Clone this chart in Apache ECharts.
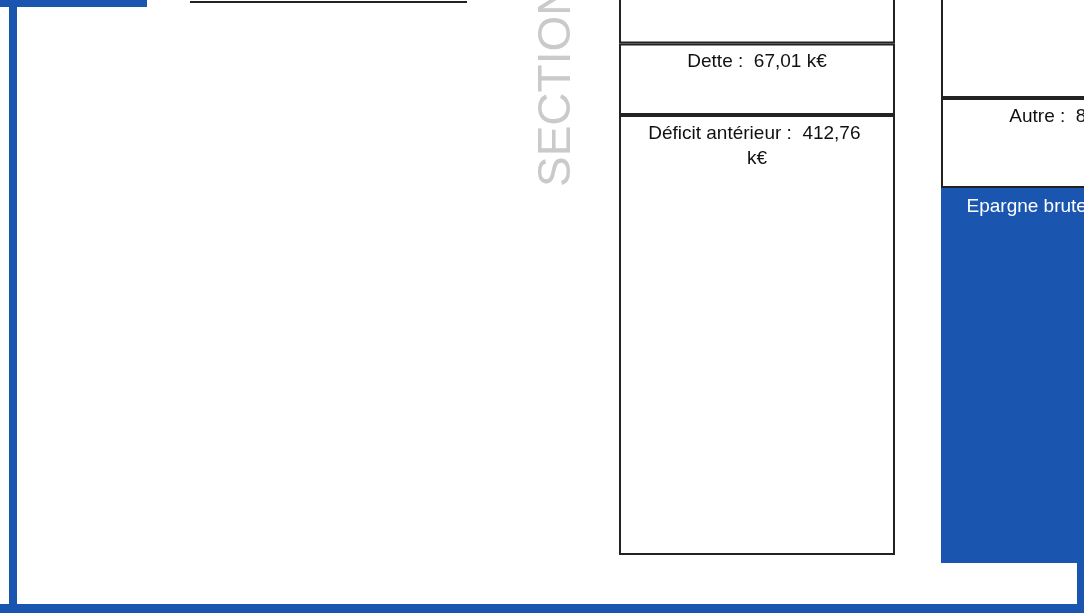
<!DOCTYPE html>
<html>
<head>
<meta charset="utf-8">
<script src="https://cdn.jsdelivr.net/npm/echarts@6/dist/echarts.min.js"></script>
<style>
html, body { margin: 0; padding: 0; background: #fff; }
#main { width: 1084px; height: 613px; }
</style>
</head>
<body>
<div id="main"></div>
<script>
// colonne gauche (dépenses) : du bas vers le haut
var depNoms = ['Déficit antérieur', 'Dette', 'Charges'];
var depVals = [412.76, 67.01, 200];
// colonne droite (recettes) : du bas vers le haut
var recNoms = ['Epargne brute', 'Autre', 'Recettes'];
var recVals = [351.8, 84.4, 200];

var BLEU = '#1a56b0';
var k = 1.066; // px par k€

function fmt(v) {
	return v.toFixed(2).replace('.', ',');
}

var lbl = {
	show: true,
	position: 'insideTop',
	distance: 6,
	fontFamily: 'Liberation Sans, Arial, sans-serif',
	fontSize: 19,
	lineHeight: 25,
	color: '#111',
	width: 236,
	overflow: 'break',
	formatter: function(p) {
		return p.seriesName + ' :  ' + fmt(p.value) + ' k€';
	}
};

var series = [];
depNoms.forEach(function(n, i) {
	series.push({
		name: n,
		type: 'bar',
		stack: 'dep',
		xAxisIndex: 0,
		yAxisIndex: 0,
		barWidth: '100%',
		clip: false,
		data: [depVals[i]],
		itemStyle: { color: '#fff', borderColor: '#222', borderWidth: 2 },
		label: lbl
	});
});
recNoms.forEach(function(n, i) {
	var bleu = n == 'Epargne brute';
	series.push({
		name: n,
		type: 'bar',
		stack: 'rec',
		xAxisIndex: 1,
		yAxisIndex: 1,
		barWidth: '100%',
		clip: false,
		data: [recVals[i]],
		itemStyle: bleu ? { color: BLEU, borderColor: BLEU, borderWidth: 7 } : { color: '#fff', borderColor: '#222', borderWidth: 2 },
		label: Object.assign({}, lbl, { width: 260 }, bleu ? { color: '#fff' } : {})
	});
});

var chart = echarts.init(document.getElementById('main'));
chart.setOption({
	backgroundColor: '#fff',
	animation: false,
	grid: [
		{ left: 619, top: 0, width: 276, height: 555, outerBoundsMode: 'none' },
		{ left: 941, top: 0, width: 276, height: 563, outerBoundsMode: 'none' }
	],
	xAxis: [
		{ type: 'category', data: ['Dépenses'], show: false, gridIndex: 0 },
		{ type: 'category', data: ['Recettes'], show: false, gridIndex: 1 }
	],
	yAxis: [
		{ type: 'value', min: 0, max: 555 / k, show: false, gridIndex: 0 },
		{ type: 'value', min: 0, max: 563 / k, show: false, gridIndex: 1 }
	],
	graphic: [
		// cadre bleu
		{ type: 'rect', shape: { x: 0, y: 0, width: 147, height: 7 }, style: { fill: BLEU } },
		{ type: 'rect', shape: { x: 9, y: 0, width: 8, height: 613 }, style: { fill: BLEU } },
		{ type: 'rect', shape: { x: 0, y: 604, width: 1084, height: 9 }, style: { fill: BLEU } },
		{ type: 'rect', shape: { x: 1077, y: 560, width: 7, height: 53 }, style: { fill: BLEU } },
		// trait noir en haut
		{ type: 'line', shape: { x1: 190, y1: 2, x2: 467, y2: 2 }, style: { stroke: '#222', lineWidth: 2 } },
		// titre vertical
		{
			type: 'text',
			x: 557, y: 187,
			rotation: Math.PI / 2,
			style: {
				text: 'SECTION',
				fontFamily: 'Liberation Sans, Arial, sans-serif',
				fontSize: 46,
				fill: '#cacaca',
				align: 'left',
				verticalAlign: 'middle'
			}
		}
	],
	series: series
});
</script>
</body>
</html>
